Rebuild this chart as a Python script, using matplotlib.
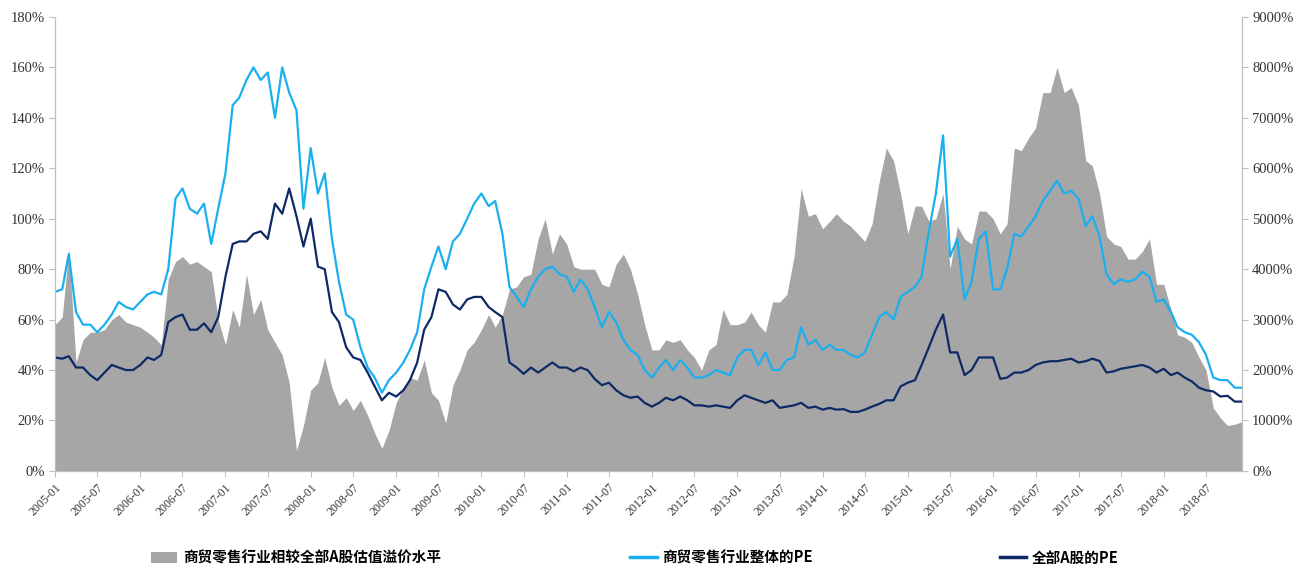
import pandas as pd
import matplotlib
matplotlib.use("Agg")
import matplotlib.pyplot as plt
import matplotlib.dates as mdates
from matplotlib.patches import Patch
from matplotlib.lines import Line2D
from matplotlib.ticker import FuncFormatter, MultipleLocator

# monthly readings, 2005-01 .. 2018-12
months = pd.date_range("2005-01-01", "2018-12-01", freq="MS")

# premium of retail sector vs all A-shares (left axis, %)
premium = [
    58, 61, 88, 43, 52, 55, 55, 56, 60, 62, 59, 58,
    57, 55, 53, 50, 76, 83, 85, 82, 83, 81, 79, 60,
    50, 64, 57, 78, 62, 68, 56, 51, 46, 35, 8, 18,
    32, 35, 45, 33, 26, 29, 24, 28, 22, 15, 9, 16,
    27, 33, 37, 36, 44, 31, 28, 19, 34, 40, 48, 51,
    56, 62, 57, 62, 72, 73, 77, 78, 92, 100, 86, 94,
    90, 81, 80, 80, 80, 74, 73, 82, 86, 80, 70, 58,
    48, 48, 52, 51, 52, 48, 45, 40, 48, 50, 64, 58,
    58, 59, 63, 58, 55, 67, 67, 70, 85, 112, 101, 102,
    96, 99, 102, 99, 97, 94, 91, 98, 115, 128, 123, 110,
    94, 105, 105, 99, 100, 110, 80, 97, 92, 90, 103, 103,
    100, 94, 98, 128, 127, 132, 136, 150, 150, 160, 150, 152,
    145, 123, 121, 110, 93, 90, 89, 84, 84, 87, 92, 74,
    74, 64, 54, 53, 51, 45, 40, 25, 21, 18, 18.5, 19.5,
]

# PE of retail sector (right axis)
retail_pe = [
    35.5, 36, 43, 31.5, 29, 29, 27.5, 29, 31, 33.5, 32.5, 32,
    33.5, 35, 35.5, 35, 40, 54, 56, 52, 51, 53, 45, 52,
    59, 72.5, 74, 77.5, 80, 77.5, 79, 70, 80, 75, 71.5, 52,
    64, 55, 59, 46, 37.5, 31, 30, 24.5, 20.5, 18.5, 15.5, 18,
    19.5, 21.5, 24, 27.5, 36, 40.5, 44.5, 40, 45.5, 47, 50, 53,
    55, 52.5, 53.5, 47, 36.5, 34.5, 32.5, 36, 38.5, 40, 40.5, 39,
    38.5, 35.5, 38, 36, 32.5, 28.5, 31.5, 29.5, 26, 24, 23, 20,
    18.5, 20.5, 22, 20, 22, 20.5, 18.5, 18.5, 19, 20, 19.5, 19,
    22.5, 24, 24, 21, 23.5, 20, 20, 22, 22.5, 28.5, 25, 26,
    24, 25, 24, 24, 23, 22.5, 23.5, 27, 30.5, 31.5, 30, 34.5,
    35.5, 36.5, 38.5, 47.5, 55, 66.5, 42.5, 46, 34, 37.5, 46, 47.5,
    36, 36, 40, 47, 46.5, 48.5, 50.5, 53.5, 55.5, 57.5, 55, 55.5,
    54, 48.5, 50.5, 46.5, 39, 37, 38, 37.5, 38, 39.5, 38.5, 33.5,
    34, 31.5, 28.5, 27.5, 27, 25.5, 23, 18.5, 18, 18, 16.5, 16.5,
]

# PE of all A-shares (right axis)
all_a_pe = [
    22.5, 22.25, 22.75, 20.5, 20.5, 19, 18, 19.5, 21, 20.5, 20, 20,
    21, 22.5, 22, 23, 29.5, 30.5, 31, 28, 28, 29.25, 27.5, 30.5,
    38.5, 45, 45.5, 45.5, 47, 47.5, 46, 53, 51, 56, 50.5, 44.5,
    50, 40.5, 40, 31.5, 29.5, 24.5, 22.5, 22, 19.5, 16.75, 14, 15.5,
    14.75, 16, 18, 21.5, 28, 30.5, 36, 35.5, 33, 32, 34, 34.5,
    34.5, 32.5, 31.5, 30.5, 21.5, 20.5, 19.25, 20.5, 19.5, 20.5, 21.5, 20.5,
    20.5, 19.75, 20.5, 20, 18.25, 17, 17.5, 16, 15, 14.5, 14.75, 13.5,
    12.75, 13.5, 14.5, 14, 14.75, 14, 13, 13, 12.75, 13, 12.75, 12.5,
    14, 15, 14.5, 14, 13.5, 14, 12.5, 12.75, 13, 13.5, 12.5, 12.75,
    12.15, 12.5, 12.15, 12.25, 11.7, 11.7, 12.15, 12.75, 13.3, 14, 14, 16.75,
    17.5, 18, 21, 24.5, 28, 31, 23.5, 23.5, 19, 20, 22.5, 22.5,
    22.5, 18.25, 18.5, 19.5, 19.5, 20, 21, 21.5, 21.75, 21.75, 22, 22.25,
    21.5, 21.75, 22.25, 21.8, 19.5, 19.75, 20.25, 20.5, 20.75, 21, 20.5, 19.5,
    20.25, 19, 19.5, 18.5, 17.75, 16.5, 16, 15.75, 14.75, 14.9, 13.75, 13.75,
]

labels = ["商贸零售行业相较全部A股估值溢价水平", "商贸零售行业整体的PE", "全部A股的PE"]

gray = "#a6a6a6"
light_blue = "#1aaff0"
navy = "#0d2a66"
axis_c = "#bfbfbf"

fig = plt.figure(figsize=(12.97, 5.85), dpi=100)
ax = fig.add_axes([0.0424, 0.195, 0.915, 0.776])
ax2 = ax.twinx()

ax.fill_between(months, premium, color=gray, lw=0)
ax2.plot(months, retail_pe, color=light_blue, lw=1.6)
ax2.plot(months, all_a_pe, color=navy, lw=1.6)

ax.set_xlim(months[0], months[-1])
ax.set_ylim(0, 180)
ax2.set_ylim(0, 90)
ax.yaxis.set_major_locator(MultipleLocator(20))
ax2.yaxis.set_major_locator(MultipleLocator(10))
ax.yaxis.set_major_formatter(FuncFormatter(lambda v, p: f"{v:.0f}%"))
ax2.yaxis.set_major_formatter(FuncFormatter(lambda v, p: f"{v * 100:.0f}%"))

ax.xaxis.set_major_locator(mdates.MonthLocator(bymonth=[1, 7]))
ax.xaxis.set_major_formatter(mdates.DateFormatter("%Y-%m"))

serif = "Liberation Serif"
for a in (ax, ax2):
    for s in a.spines.values():
        s.set_color(axis_c)
    a.spines["top"].set_visible(False)
    a.tick_params(colors=axis_c, labelcolor="#333333", length=4, width=0.8)
for t in ax.get_yticklabels() + ax2.get_yticklabels():
    t.set_fontfamily(serif)
    t.set_fontsize(10.5)
for t in ax.get_xticklabels():
    t.set_fontfamily(serif)
    t.set_fontsize(8.5)
    t.set_rotation(45)
    t.set_ha("right")
    t.set_rotation_mode("anchor")

cjk = ["Noto Sans CJK SC", "DejaVu Sans"]
handles = [
    Patch(facecolor=gray, edgecolor="none"),
    Line2D([], [], color=light_blue, lw=2.5),
    Line2D([], [], color=navy, lw=2.5),
]
xs = [0.106, 0.476, 0.761]
for h, lab, x in zip(handles, labels, xs):
    fig.legend([h], [lab], loc="center left", bbox_to_anchor=(x, 0.047),
               frameon=False, handlelength=1.8, handletextpad=0.4,
               prop={"family": cjk, "size": 10.5, "weight": "bold"})

fig.savefig("out.png", dpi=100)
